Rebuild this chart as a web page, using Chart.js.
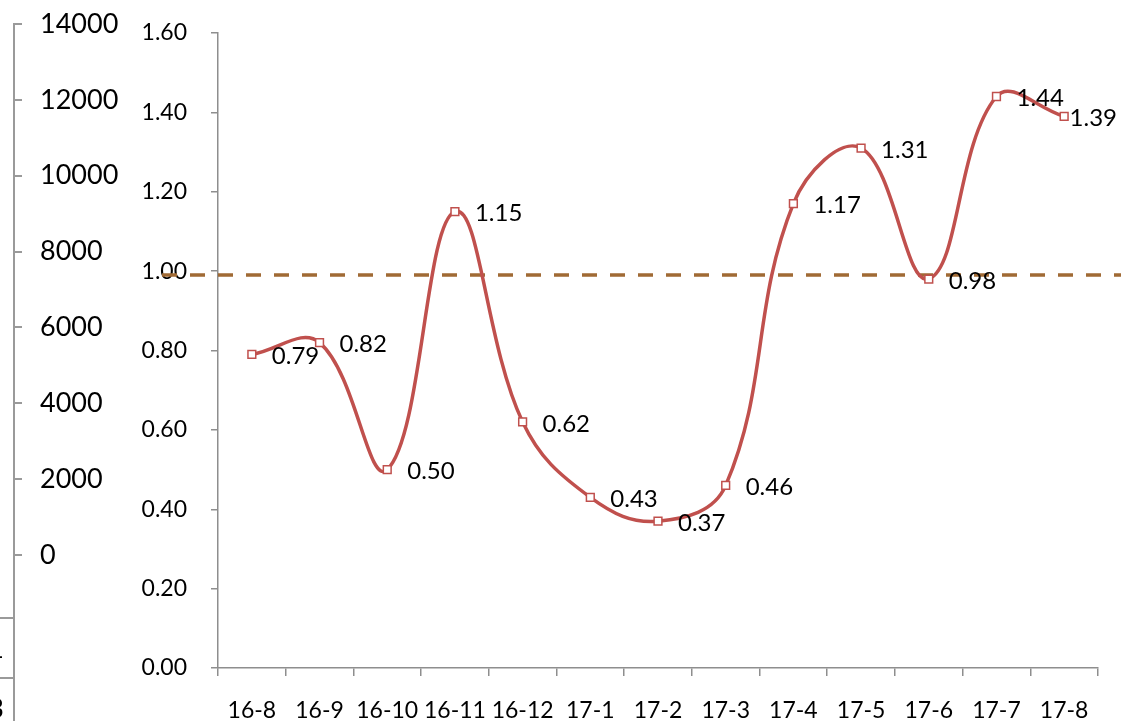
<!DOCTYPE html>
<html>
<head>
<meta charset="utf-8">
<script src="https://cdn.jsdelivr.net/npm/chart.js@4/dist/chart.umd.min.js"></script>
<style>
  html, body { margin: 0; padding: 0; background: #fff; }
  #wrap { position: relative; width: 1121px; height: 721px; overflow: hidden; }
  #main { position: absolute; left: 0; top: 0; }
  #side { position: absolute; left: 0; top: 0; }
  .stub-line { position: absolute; left: 13px; top: 555px; width: 0; height: 166px; border-left: 2px solid #9a9a9a; }
  .stub-cell { position: absolute; left: -30px; width: 34px; height: 58px; padding-right: 9px; border-top: 2px solid #9a9a9a;
               font: 27px Lato, "Liberation Sans", sans-serif; color: #000; text-align: right; line-height: 58px; }
</style>
</head>
<body>
<div id="wrap">
  <canvas id="side" width="150" height="721"></canvas>
  <canvas id="main" width="1121" height="721"></canvas>
  <div class="stub-line"></div>
  <div class="stub-cell" style="top:617px;">1</div>
  <div class="stub-cell" style="top:677px;">3</div>
</div>
<script>
// Months shown on the category axis
const months = ['16-8', '16-9', '16-10', '16-11', '16-12', '17-1', '17-2', '17-3', '17-4', '17-5', '17-6', '17-7', '17-8'];
// Ratio per month
const ratios = [0.79, 0.82, 0.50, 1.15, 0.62, 0.43, 0.37, 0.46, 1.17, 1.31, 0.98, 1.44, 1.39];
// Reference level drawn as a dashed line
const referenceLevel = 0.99;
// Ratio axis range and step
const ratioAxis = { min: 0, max: 1.6, step: 0.2 };
// Volume axis range and step (left-most axis)
const volumeAxis = { min: 0, max: 14000, step: 2000 };

const FONT = 'Lato, "Liberation Sans", sans-serif';
const AXIS_GREY = '#8e8e8e';
const RED = '#C0504D';

Chart.defaults.font.family = FONT;
Chart.defaults.color = '#000';
Chart.defaults.animation = false;

// Labels to the right of each point, kept inside the canvas
const valueLabels = {
  id: 'valueLabels',
  afterDatasetsDraw(chart) {
    const ctx = chart.ctx;
    const meta = chart.getDatasetMeta(0);
    ctx.save();
    ctx.font = '24px ' + FONT;
    ctx.fillStyle = '#000';
    ctx.textAlign = 'left';
    ctx.textBaseline = 'middle';
    meta.data.forEach((pt, i) => {
      const txt = ratios[i].toFixed(2);
      const w = ctx.measureText(txt).width;
      const x = Math.min(pt.x + 20, chart.width - 4 - w);
      ctx.fillText(txt, x, pt.y + 2);
    });
    ctx.restore();
  }
};

// Dashed reference line across the plot
const referenceLine = {
  id: 'referenceLine',
  beforeDatasetsDraw(chart) {
    const ctx = chart.ctx;
    const y = chart.scales.y.getPixelForValue(referenceLevel);
    ctx.save();
    ctx.strokeStyle = '#A06A34';
    ctx.lineWidth = 3.5;
    ctx.setLineDash([15, 13]);
    ctx.beginPath();
    ctx.moveTo(chart.chartArea.left - 56, y);
    ctx.lineTo(chart.width, y);
    ctx.stroke();
    ctx.restore();
  }
};

new Chart(document.getElementById('main'), {
  type: 'line',
  data: {
    labels: months,
    datasets: [{
      data: ratios,
      borderColor: RED,
      borderWidth: 3.5,
      tension: 0.4,
      pointStyle: 'rect',
      pointRadius: 5.5,
      pointBorderWidth: 1.5,
      pointBorderColor: RED,
      pointBackgroundColor: '#fff',
      clip: false
    }]
  },
  options: {
    responsive: false,
    devicePixelRatio: 1,
    layout: { padding: { left: 138, right: 23, top: 33, bottom: 0 } },
    plugins: { legend: { display: false }, tooltip: { enabled: false } },
    scales: {
      x: {
        offset: true,
        grid: { offset: true, drawOnChartArea: false, color: AXIS_GREY, tickLength: 8, lineWidth: 1.5 },
        border: { color: AXIS_GREY, width: 1.5 },
        ticks: { font: { size: 23 }, padding: 21, maxRotation: 0, autoSkip: false, color: '#000' },
        afterFit(s) { s.height = 53; }
      },
      y: {
        min: ratioAxis.min,
        max: ratioAxis.max,
        grid: { drawOnChartArea: false, color: AXIS_GREY, tickLength: 7, lineWidth: 1.5 },
        border: { color: AXIS_GREY, width: 1.5 },
        ticks: {
          stepSize: ratioAxis.step,
          font: { size: 23 },
          padding: 24,
          color: '#000',
          callback: v => Number(v).toFixed(2)
        },
        afterFit(s) { s.width = 80; s.paddingTop = 0; s.paddingBottom = 0; }
      }
    }
  },
  plugins: [referenceLine, valueLabels]
});

// Volume axis on the far left
new Chart(document.getElementById('side'), {
  type: 'line',
  data: { labels: [''], datasets: [{ data: [], yAxisID: 'v' }] },
  options: {
    responsive: false,
    devicePixelRatio: 1,
    layout: { padding: { left: 0, right: 0, top: 24, bottom: 166 } },
    plugins: { legend: { display: false }, tooltip: { enabled: false } },
    scales: {
      x: { display: false },
      v: {
        position: 'right',
        min: volumeAxis.min,
        max: volumeAxis.max,
        grid: { drawOnChartArea: false, color: '#9a9a9a', tickLength: 8, lineWidth: 2 },
        border: { color: '#9a9a9a', width: 2 },
        ticks: { stepSize: volumeAxis.step, font: { size: 27 }, padding: 18, color: '#000', callback: v => String(v) },
        afterFit(s) { s.width = 136; s.paddingTop = 0; s.paddingBottom = 0; }
      }
    }
  }
});
</script>
</body>
</html>
